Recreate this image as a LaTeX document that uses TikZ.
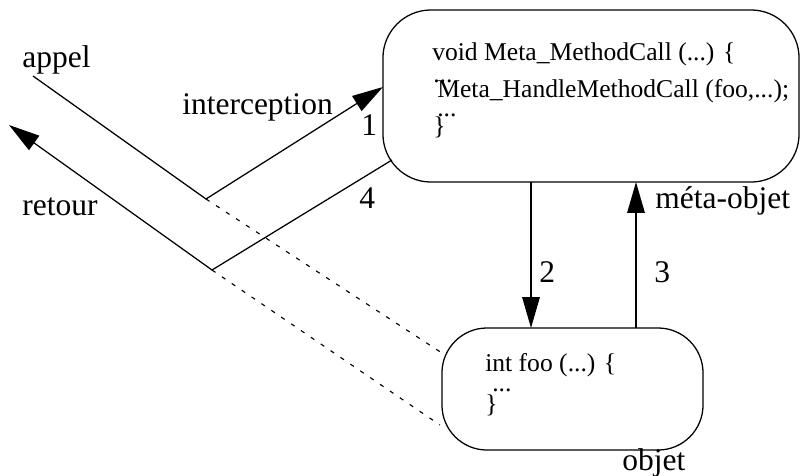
\documentclass[tikz,border=0pt]{standalone}
\usepackage{fontspec}
\setmainfont{Liberation Serif}
\usepackage{tikz}
\usetikzlibrary{arrows.meta,calc}

\newcommand{\codefont}{\fontsize{18.2}{22}\selectfont}
\newcommand{\labelfont}{\fontsize{22.4}{26}\selectfont}

\begin{document}
\begin{tikzpicture}[
    x=0.025cm,
    y=-0.025cm,
    >={Triangle[length=22pt, width=12.5pt]},
    inkline/.style={line width=0.9pt, black},
    hintline/.style={line width=0.8pt, black, dash pattern=on 3pt off 5.5pt},
    box/.style={draw, line width=0.9pt, outer sep=0pt, inner sep=0pt},
    code/.style={font=\codefont, anchor=base west, inner sep=0pt},
    label/.style={font=\labelfont, anchor=base west, inner sep=0pt},
]
\useasboundingbox (0,0) rectangle (800,475);
% the two objects
\node[box, rounded corners=1.2cm, minimum width=10.4cm, minimum height=4.3cm]
  (meta) at (591,96) {};
\node[box, rounded corners=1.125cm, minimum width=6.525cm, minimum height=3.05cm]
  (obj) at (572.5,389) {};
% code of the meta-object
\node[code] (m1) at (432,60) {void Meta\_MethodCall (...) \{};
\node[code] (m2) at (433,82) {...};
\node[code] (m3) at (437,97) {Meta\_HandleMethodCall (foo,...);};
\node[code] (m4) at (437,116) {...};
\node[code] (m5) at (433,134) {\}};
% code of the object
\node[code] (o1) at (485,371) {int foo (...) \{};
\node[code] (o2) at (492,391) {...};
\node[code] (o3) at (485,412) {\}};
% call and return
\coordinate (appel) at (33,76);
\coordinate (v1) at (206,199);
\coordinate (v2) at (212,270);
\coordinate (ret) at (9,125);
\draw[inkline,->] (appel) -- (v1) -- ($(meta.west)+(0,-9)$);
\draw[inkline,->] ($(meta.west)+(9,64)$) -- (v2) -- (ret);
\draw[hintline] (v1) -- ($(obj.west)+(0,-36)$);
\draw[hintline] (v2) -- ($(obj.west)+(-2,36)$);
% meta-object <-> object
\coordinate (c2) at (531,0);
\coordinate (c3) at (636,0);
\draw[inkline,->] (c2 |- meta.south) -- (c2 |- obj.north);
\draw[inkline,->] (c3 |- obj.north) -- (c3 |- meta.south);
% labels
\node[label] (lappel) at (22,67) {appel};
\node[label] (linter) at (182,114) {interception};
\node[label] (lone) at (361,135) {1};
\node[label] (lretour) at (22,215) {retour};
\node[label] (lfour) at (359,208) {4};
\node[label] (ltwo) at (539,282) {2};
\node[label] (lthree) at (654,282) {3};
\node[label] (lmeta) at (655,208) {méta-objet};
\node[label] (lobj) at (622,470) {objet};
\end{tikzpicture}
\end{document}
